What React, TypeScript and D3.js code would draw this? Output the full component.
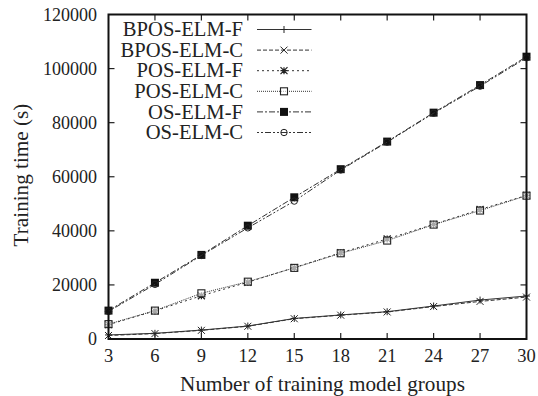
import React from "react";
import * as d3 from "d3";

const groups = [3, 6, 9, 12, 15, 18, 21, 24, 27, 30];
const yTicks = [0, 20000, 40000, 60000, 80000, 100000, 120000];

const bposElmF = [1500, 2100, 3300, 4800, 7600, 8900, 10100, 12200, 14400, 15900];
const bposElmC = [1300, 2000, 3200, 4700, 7500, 8800, 10000, 12000, 13900, 15500];
const posElmF = [5300, 10400, 16000, 21000, 26400, 31900, 37000, 42400, 47900, 53100];
const posElmC = [5500, 10500, 16900, 21200, 26300, 31700, 36400, 42300, 47500, 53000];
const osElmF = [10500, 20800, 31100, 41900, 52400, 62800, 73000, 83700, 93900, 104400];
const osElmC = [10200, 20200, 30900, 41100, 51000, 62500, 72800, 83500, 93500, 104000];

const seriesNames = ["BPOS-ELM-F", "BPOS-ELM-C", "POS-ELM-F", "POS-ELM-C", "OS-ELM-F", "OS-ELM-C"];
const seriesValues = [bposElmF, bposElmC, posElmF, posElmC, osElmF, osElmC];
const dashes = ["none", "4,2", "2,3", "1,1", "6,2,2,2", "2,2,2,2,6,2"];
const markers = ["plus", "cross", "star", "openSquare", "filledSquare", "circle"];

const W = 538;
const H = 396;
const m = { left: 108.5, right: 526.5, top: 14.5, bottom: 339 };
const font = "'Liberation Serif', 'Times New Roman', serif";

function Marker({ type, x, y }: { type: string; x: number; y: number }) {
  const s = 3.5;
  const c = "#222";
  switch (type) {
    case "plus":
      return <path d={`M${x - s},${y}H${x + s}M${x},${y - s}V${y + s}`} stroke={c} strokeWidth={1} />;
    case "cross":
      return <path d={`M${x - s},${y - s}L${x + s},${y + s}M${x - s},${y + s}L${x + s},${y - s}`} stroke={c} strokeWidth={1} />;
    case "star":
      return (
        <path
          d={`M${x - s},${y}H${x + s}M${x},${y - s}V${y + s}M${x - s},${y - s}L${x + s},${y + s}M${x - s},${y + s}L${x + s},${y - s}`}
          stroke={c}
          strokeWidth={1.2}
        />
      );
    case "openSquare":
      return <rect x={x - s} y={y - s} width={2 * s} height={2 * s} fill="white" fillOpacity={0.6} stroke={c} strokeWidth={1.1} />;
    case "filledSquare":
      return <rect x={x - 4} y={y - 4} width={8} height={8} fill="#111" />;
    default:
      return <circle cx={x} cy={y} r={3.2} fill="none" stroke={c} strokeWidth={1} />;
  }
}

export default function App() {
  const x = d3.scaleLinear().domain([3, 30]).range([m.left, m.right]);
  const y = d3.scaleLinear().domain([0, 120000]).range([m.bottom, m.top]);
  const line = d3
    .line<number>()
    .x((_, i) => x(groups[i]))
    .y((d) => y(d));

  const legendX = 243;
  const legendY0 = 29.5;
  const legendDy = 20.6;

  return (
    <svg width={W} height={H} style={{ position: "absolute", left: 0, top: 0, background: "white" }} fontFamily={font}>
      {/* series */}
      {seriesValues.map((vals, k) => (
        <g key={seriesNames[k]}>
          <path d={line(vals) ?? ""} fill="none" stroke="#333" strokeWidth={1} strokeDasharray={dashes[k]} />
          {vals.map((v, i) => (
            <Marker key={i} type={markers[k]} x={x(groups[i])} y={y(v)} />
          ))}
        </g>
      ))}

      {/* ticks (inward on all sides) */}
      {groups.slice(1, -1).map((g) => (
        <g key={g}>
          <line x1={x(g)} x2={x(g)} y1={m.bottom} y2={m.bottom - 6} stroke="#222" strokeWidth={1.2} />
          <line x1={x(g)} x2={x(g)} y1={m.top} y2={m.top + 6} stroke="#222" strokeWidth={1.2} />
        </g>
      ))}
      {yTicks.slice(1, -1).map((t) => (
        <g key={t}>
          <line x1={m.left} x2={m.left + 6} y1={y(t)} y2={y(t)} stroke="#222" strokeWidth={1.2} />
          <line x1={m.right} x2={m.right - 6} y1={y(t)} y2={y(t)} stroke="#222" strokeWidth={1.2} />
        </g>
      ))}

      {/* frame */}
      <rect x={m.left} y={m.top} width={m.right - m.left} height={m.bottom - m.top} fill="none" stroke="#111" strokeWidth={2} />

      {/* tick labels */}
      {groups.map((g) => (
        <text key={g} x={x(g)} y={362} textAnchor="middle" fontSize={18.5} fill="#222">
          {g}
        </text>
      ))}
      {yTicks.map((t) => (
        <text key={t} x={97} y={y(t) + 6} textAnchor="end" fontSize={18} fill="#222">
          {t}
        </text>
      ))}

      {/* axis titles */}
      <text x={322.5} y={390.5} textAnchor="middle" fontSize={21.2} fill="#222">
        Number of training model groups
      </text>
      <text transform={`translate(27.5,175) rotate(-90)`} textAnchor="middle" fontSize={21.2} fill="#222">
        Training time (s)
      </text>

      {/* legend */}
      {seriesNames.map((name, k) => {
        const ly = legendY0 + k * legendDy;
        return (
          <g key={name}>
            <text x={legendX} y={ly + 6.7} textAnchor="end" fontSize={20.6} fill="#222">
              {name}
            </text>
            <line x1={257} x2={311.5} y1={ly} y2={ly} stroke="#333" strokeWidth={1} strokeDasharray={dashes[k]} />
            <Marker type={markers[k]} x={284} y={ly} />
          </g>
        );
      })}
    </svg>
  );
}
